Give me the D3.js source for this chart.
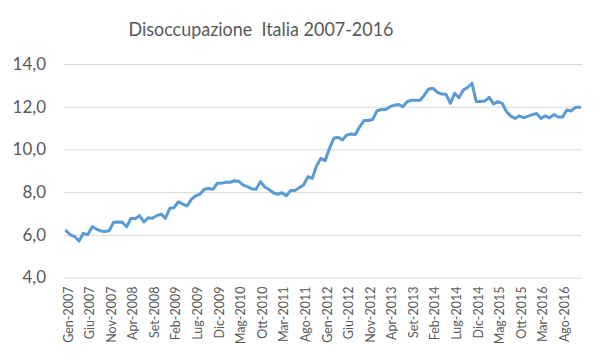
<!DOCTYPE html>
<html>
<head>
<meta charset="utf-8">
<script src="https://cdn.jsdelivr.net/npm/d3@7"></script>
<style>
  html, body { margin: 0; padding: 0; background: #fff; }
  svg { display: block; }
</style>
</head>
<body>
<svg id="chart" width="600" height="360"></svg>
<script>
const monthNames = ["Gen","Feb","Mar","Apr","Mag","Giu","Lug","Ago","Set","Ott","Nov","Dic"];
const years = [2007,2008,2009,2010,2011,2012,2013,2014,2015,2016];
const months = years.flatMap(y => monthNames.map(m => m + "-" + y));
const unemployment = [
  6.18, 6.00, 5.91, 5.71, 6.07, 6.00, 6.38, 6.27, 6.18, 6.15, 6.20, 6.59,
  6.60, 6.59, 6.38, 6.77, 6.75, 6.90, 6.60, 6.80, 6.77, 6.90, 6.97, 6.77,
  7.24, 7.27, 7.55, 7.44, 7.35, 7.66, 7.83, 7.90, 8.13, 8.17, 8.13, 8.41,
  8.42, 8.46, 8.46, 8.53, 8.50, 8.33, 8.26, 8.15, 8.13, 8.49, 8.24, 8.12,
  7.97, 7.90, 7.97, 7.83, 8.07, 8.07, 8.21, 8.33, 8.72, 8.64, 9.22, 9.58,
  9.47, 10.05, 10.52, 10.57, 10.44, 10.67, 10.72, 10.70, 11.06, 11.35, 11.35, 11.40,
  11.80, 11.87, 11.87, 12.00, 12.07, 12.10, 12.00, 12.24, 12.30, 12.30, 12.30, 12.55,
  12.83, 12.86, 12.67, 12.59, 12.58, 12.16, 12.63, 12.42, 12.78, 12.90, 13.10, 12.24,
  12.24, 12.27, 12.44, 12.13, 12.24, 12.16, 11.77, 11.56, 11.45, 11.57, 11.48, 11.56,
  11.63, 11.68, 11.45, 11.57, 11.48, 11.63, 11.52, 11.52, 11.85, 11.80, 11.97, 11.97
];
const yTicks = [4, 6, 8, 10, 12, 14];
const title = "Disoccupazione  Italia 2007-2016";

(function () {
const svg = d3.select("#chart");
const mLeft = 64, mRight = 582, mTop = 64, mBottom = 277.5;

const x = d3.scaleBand().domain(months).range([mLeft, mRight]).paddingInner(0).paddingOuter(0);
const y = d3.scaleLinear().domain([4, 14]).range([mBottom, mTop]);

svg.append("rect").attr("width", 600).attr("height", 360).attr("fill", "#fff");

svg.append("text")
  .attr("x", 261).attr("y", 36)
  .attr("text-anchor", "middle")
  .attr("font-family", "Lato, 'Open Sans', sans-serif")
  .attr("font-size", 20)
  .attr("fill", "#595959")
  .style("white-space", "pre")
  .attr("xml:space", "preserve")
  .attr("textLength", 265)
  .attr("lengthAdjust", "spacingAndGlyphs")
  .text(title);

const yAxis = d3.axisLeft(y).tickValues(yTicks).tickSize(-(mRight - mLeft)).tickPadding(18)
  .tickFormat(d => d3.format(".1f")(d).replace(".", ","));
const gy = svg.append("g").attr("transform", `translate(${mLeft},0)`).call(yAxis);
gy.select(".domain").remove();
gy.selectAll(".tick line").attr("stroke", "#d9d9d9").attr("stroke-width", 1);
gy.selectAll(".tick text")
  .attr("font-family", "Lato, 'Open Sans', sans-serif")
  .attr("font-size", 17)
  .attr("fill", "#595959");

const xAxis = d3.axisBottom(x).tickValues(months.filter((d, i) => i % 5 === 0)).tickSize(0).tickPadding(0);
const gx = svg.append("g").attr("transform", `translate(0,${mBottom})`).call(xAxis);
gx.select(".domain").remove();
gx.selectAll(".tick text")
  .attr("font-family", "Lato, 'Open Sans', sans-serif")
  .attr("font-size", 12.5)
  .attr("fill", "#595959")
  .attr("text-anchor", "end")
  .attr("transform", "translate(2,9) rotate(-90)")
  .attr("x", 0).attr("y", 0).attr("dy", "0.35em");

const line = d3.line()
  .x((d, i) => x(months[i]) + x.bandwidth() / 2)
  .y(d => y(d));
svg.append("path")
  .datum(unemployment)
  .attr("d", line)
  .attr("fill", "none")
  .attr("stroke", "#5b9bd5")
  .attr("stroke-width", 3)
  .attr("stroke-linejoin", "round")
  .attr("stroke-linecap", "round");
})();
</script>
</body>
</html>
